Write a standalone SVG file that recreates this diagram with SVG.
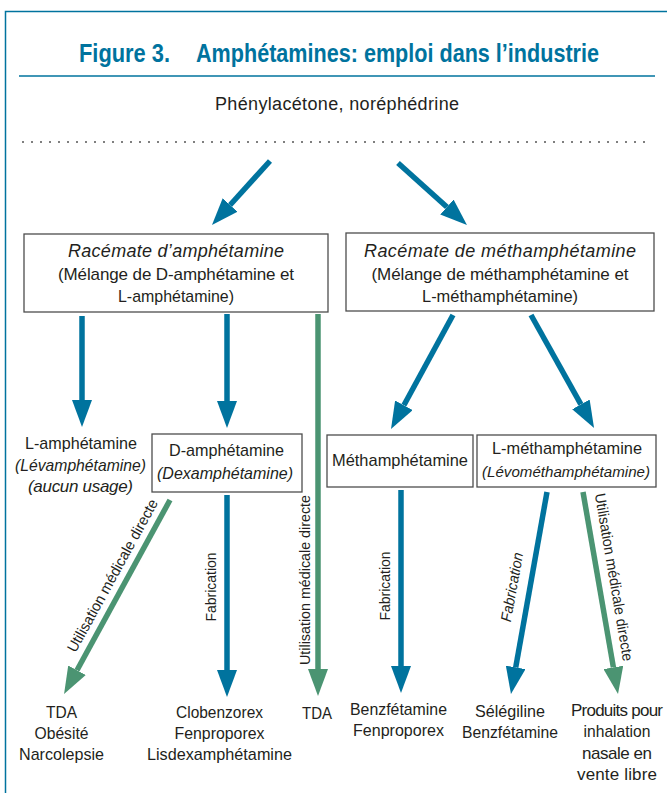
<svg xmlns="http://www.w3.org/2000/svg" width="667" height="793" viewBox="0 0 667 793">
<style>
.t{font-family:"Liberation Sans",Arial,sans-serif;font-size:17px;fill:#231f20;text-anchor:middle}
.i{font-style:italic}
.lab{font-size:15px}
.ttl{font-family:"Liberation Sans",Arial,sans-serif;font-size:25px;font-weight:bold;fill:#00739e}
.box{fill:#fff;stroke:#4d4d4d;stroke-width:1.3}
.ab{stroke:#00739e;stroke-width:5.5;fill:none}
.ag{stroke:#4b9472;stroke-width:5.5;fill:none}
.frame{stroke:#00739e;stroke-width:1.5;fill:none}
</style>
<defs>
<marker id="hb" markerUnits="userSpaceOnUse" markerWidth="27" markerHeight="20" viewBox="0 0 27 20" refX="0" refY="10" orient="auto"><path d="M0,0 L27,10 L0,20 Z" fill="#00739e"/></marker>
<marker id="hg" markerUnits="userSpaceOnUse" markerWidth="27" markerHeight="20" viewBox="0 0 27 20" refX="0" refY="10" orient="auto"><path d="M0,0 L27,10 L0,20 Z" fill="#4b9472"/></marker>
</defs>
<rect width="667" height="793" fill="#fff"/>
<g id="frame">
<path class="frame" d="M5.5,793 V11.5 H667"/>
<line x1="19" y1="76" x2="655" y2="76" stroke="#00739e" stroke-width="1.5"/>
<line x1="22" y1="142" x2="652" y2="142" stroke="#555" stroke-width="1.3" stroke-dasharray="2 7"/>
</g>
<g id="title">
<text class="ttl" x="79" y="62" textLength="91" lengthAdjust="spacingAndGlyphs">Figure 3.</text>
<text class="ttl" x="196" y="62" textLength="403" lengthAdjust="spacingAndGlyphs">Amphétamines: emploi dans l’industrie</text>
</g>
<g id="source"><text class="t" x="337" y="110" style="font-size:18px" textLength="244">Phénylacétone, noréphédrine</text></g>
<g id="connectors">
<path class="ab" d="M270,161 L230.1,205" marker-end="url(#hb)"/>
<path class="ab" d="M398,163 L446.9,207" marker-end="url(#hb)"/>
<path class="ab" d="M82,316 L82,400" marker-end="url(#hb)"/>
<path class="ab" d="M227,314 L227,401" marker-end="url(#hb)"/>
<path class="ag" d="M318,314 L318,669" marker-end="url(#hg)"/>
<path class="ab" d="M453,315 L403.9,405.3" marker-end="url(#hb)"/>
<path class="ab" d="M531,315 L580.9,404.4" marker-end="url(#hb)"/>
<path class="ag" d="M170,500 L77,670.3" marker-end="url(#hg)"/>
<path class="ab" d="M227,495 L227,670" marker-end="url(#hb)"/>
<path class="ab" d="M401,490 L401,666" marker-end="url(#hb)"/>
<path class="ab" d="M547,492 L515.7,667.4" marker-end="url(#hb)"/>
<path class="ag" d="M583,492 L613.4,667.4" marker-end="url(#hg)"/>
<text class="t lab" transform="translate(117,578) rotate(-61.2)" textLength="172" lengthAdjust="spacingAndGlyphs">Utilisation médicale directe</text>
<text class="t lab" transform="translate(216,587) rotate(-90)" textLength="69" lengthAdjust="spacingAndGlyphs">Fabrication</text>
<text class="t lab" transform="translate(310,580) rotate(-90)" textLength="170" lengthAdjust="spacingAndGlyphs">Utilisation médicale directe</text>
<text class="t lab" transform="translate(390,586) rotate(-90)" textLength="69" lengthAdjust="spacingAndGlyphs">Fabrication</text>
<text class="t lab i" transform="translate(517,588) rotate(-79.8)" textLength="70" lengthAdjust="spacingAndGlyphs">Fabrication</text>
<text class="t lab" transform="translate(609,578) rotate(80.4)" textLength="170" lengthAdjust="spacingAndGlyphs">Utilisation médicale directe</text>
</g>
<g id="racemate-amph">
<rect class="box" x="24" y="234" width="304" height="78"/>
<text class="t i" x="176" y="257" style="font-size:18px" textLength="216">Racémate d’amphétamine</text>
<text class="t" x="176" y="280" textLength="236">(Mélange de D-amphétamine et</text>
<text class="t" x="176" y="302" textLength="116" lengthAdjust="spacingAndGlyphs">L-amphétamine)</text>
</g>
<g id="racemate-meth">
<rect class="box" x="346" y="233" width="308" height="78"/>
<text class="t i" x="500" y="257" style="font-size:18px" textLength="272">Racémate de méthamphétamine</text>
<text class="t" x="500" y="280" textLength="257">(Mélange de méthamphétamine et</text>
<text class="t" x="500" y="302" textLength="156" lengthAdjust="spacingAndGlyphs">L-méthamphétamine)</text>
</g>
<g id="l-amph">
<text class="t" x="81" y="449" textLength="112" lengthAdjust="spacingAndGlyphs">L-amphétamine</text>
<text class="t i" x="80.5" y="471" textLength="131" lengthAdjust="spacingAndGlyphs">(Lévamphétamine)</text>
<text class="t i" x="80.5" y="492" textLength="105">(aucun usage)</text>
</g>
<g id="d-amph">
<rect class="box" x="152" y="434" width="150" height="58"/>
<text class="t" x="226.5" y="456" textLength="115" lengthAdjust="spacingAndGlyphs">D-amphétamine</text>
<text class="t i" x="225" y="479" textLength="136" lengthAdjust="spacingAndGlyphs">(Dexamphétamine)</text>
</g>
<g id="meth">
<rect class="box" x="327" y="435" width="146" height="52"/>
<text class="t" x="400" y="466" textLength="136" lengthAdjust="spacingAndGlyphs">Méthamphétamine</text>
</g>
<g id="l-meth">
<rect class="box" x="477" y="435" width="179" height="52"/>
<text class="t" x="567" y="454" textLength="150" lengthAdjust="spacingAndGlyphs">L-méthamphétamine</text>
<text class="t i" x="566" y="477" style="font-size:15px" textLength="168" lengthAdjust="spacingAndGlyphs">(Lévométhamphétamine)</text>
</g>
<g id="out-tda1">
<text class="t" x="61.5" y="718" textLength="31" lengthAdjust="spacingAndGlyphs">TDA</text>
<text class="t" x="61.5" y="739" textLength="54" lengthAdjust="spacingAndGlyphs">Obésité</text>
<text class="t" x="61.5" y="760" textLength="85" lengthAdjust="spacingAndGlyphs">Narcolepsie</text>
</g>
<g id="out-clob">
<text class="t" x="219.5" y="718" textLength="87" lengthAdjust="spacingAndGlyphs">Clobenzorex</text>
<text class="t" x="219.5" y="739" textLength="90" lengthAdjust="spacingAndGlyphs">Fenproporex</text>
<text class="t" x="219.5" y="760" textLength="145" lengthAdjust="spacingAndGlyphs">Lisdexamphétamine</text>
</g>
<g id="out-tda2"><text class="t" x="317" y="719" textLength="30" lengthAdjust="spacingAndGlyphs">TDA</text></g>
<g id="out-benz">
<text class="t" x="398.5" y="715" textLength="97" lengthAdjust="spacingAndGlyphs">Benzfétamine</text>
<text class="t" x="398.5" y="736" textLength="91" lengthAdjust="spacingAndGlyphs">Fenproporex</text>
</g>
<g id="out-sel">
<text class="t" x="510" y="717" textLength="70" lengthAdjust="spacingAndGlyphs">Sélégiline</text>
<text class="t" x="510" y="738" textLength="96" lengthAdjust="spacingAndGlyphs">Benzfétamine</text>
</g>
<g id="out-prod">
<text class="t" x="617" y="716" textLength="92">Produits pour</text>
<text class="t" x="617" y="737" textLength="67" lengthAdjust="spacingAndGlyphs">inhalation</text>
<text class="t" x="617" y="759" textLength="70">nasale en</text>
<text class="t" x="617" y="780" textLength="80">vente libre</text>
</g>
</svg>
